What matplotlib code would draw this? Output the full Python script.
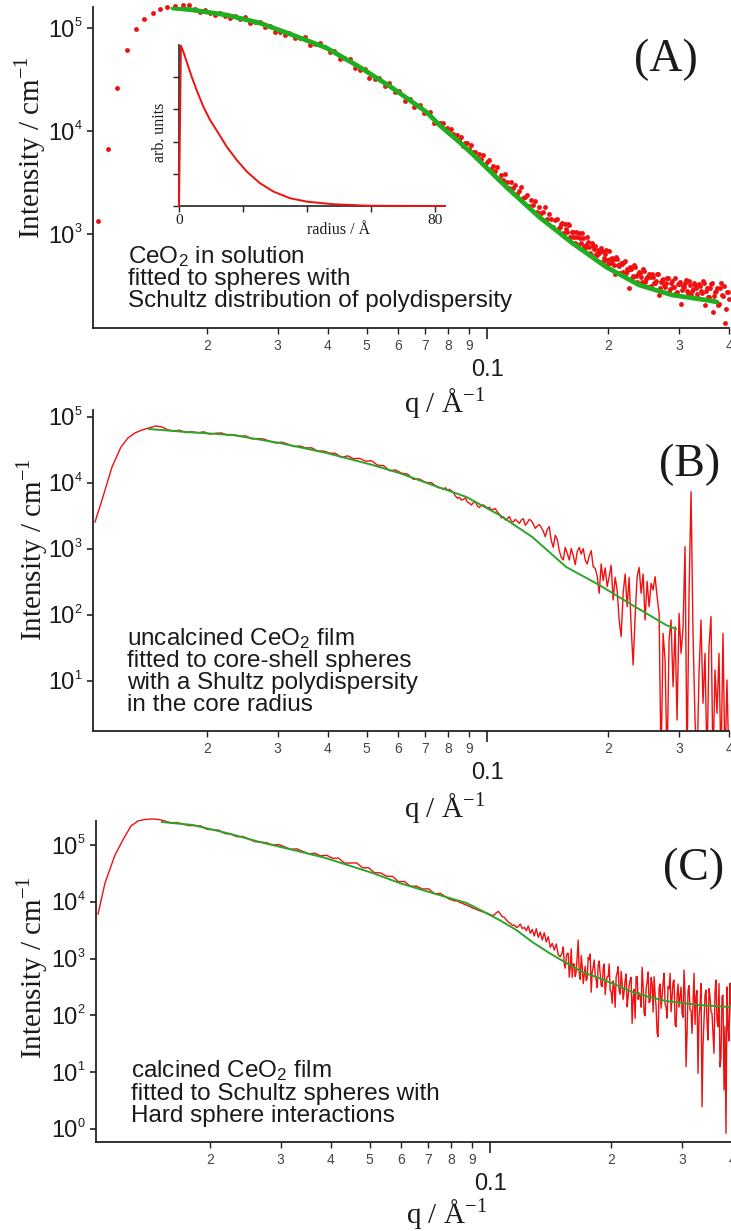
#!/usr/bin/env python3
"""SAXS curves of CeO2 (solution, uncalcined film, calcined film) with model fits."""
import numpy as np
import matplotlib
matplotlib.use("Agg")
import matplotlib.pyplot as plt
from matplotlib.ticker import FixedLocator, FuncFormatter, NullLocator

RED = "#f01010"
GREEN_A = "#1fae1f"
GREEN = "#2aa52a"
AXIS = "#222222"
INK = "#1a1a1a"
SANS = ["Liberation Sans", "DejaVu Sans"]
SERIF = ["Liberation Serif", "DejaVu Serif"]

# ---- data, stored as log10 values ----
# shared fine q grid (high-q part of every panel), log10(q / A^-1)
logq_fine = [
    -1.1144, -1.1095, -1.1045, -1.0995, -1.0945, -1.0896, -1.0846, -1.0796, -1.0746, -1.0697,
    -1.0647, -1.0597, -1.0547, -1.0498, -1.0448, -1.0398, -1.0348, -1.0299, -1.0249, -1.0199,
    -1.0149, -1.0100, -1.0050, -1.0000, -0.9950, -0.9900, -0.9851, -0.9801, -0.9751, -0.9701,
    -0.9652, -0.9602, -0.9552, -0.9502, -0.9453, -0.9403, -0.9353, -0.9303, -0.9254, -0.9204,
    -0.9154, -0.9104, -0.9055, -0.9005, -0.8955, -0.8905, -0.8856, -0.8806, -0.8756, -0.8706,
    -0.8657, -0.8607, -0.8557, -0.8507, -0.8458, -0.8408, -0.8358, -0.8308, -0.8259, -0.8209,
    -0.8159, -0.8109, -0.8060, -0.8010, -0.7960, -0.7910, -0.7861, -0.7811, -0.7761, -0.7711,
    -0.7662, -0.7612, -0.7562, -0.7512, -0.7463, -0.7413, -0.7363, -0.7313, -0.7264, -0.7214,
    -0.7164, -0.7114, -0.7065, -0.7015, -0.6965, -0.6915, -0.6866, -0.6816, -0.6766, -0.6716,
    -0.6667, -0.6617, -0.6567, -0.6517, -0.6468, -0.6418, -0.6368, -0.6318, -0.6269, -0.6219,
    -0.6169, -0.6119, -0.6070, -0.6020, -0.5970, -0.5920, -0.5871, -0.5821, -0.5771, -0.5721,
    -0.5672, -0.5622, -0.5572, -0.5522, -0.5473, -0.5423, -0.5373, -0.5323, -0.5274, -0.5224,
    -0.5174, -0.5124, -0.5075, -0.5025, -0.4975, -0.4925, -0.4876, -0.4826, -0.4776, -0.4726,
    -0.4677, -0.4627, -0.4577, -0.4527, -0.4478, -0.4428, -0.4378, -0.4328, -0.4279, -0.4229,
    -0.4179, -0.4129, -0.4080, -0.4030, -0.3980,
]
# extra points between the fine ones, where the noisy tail is densest
logq_tail = [
    -0.8184, -0.8134, -0.8085, -0.8035, -0.7985, -0.7935, -0.7886, -0.7836, -0.7786, -0.7736,
    -0.7687, -0.7637, -0.7587, -0.7537, -0.7488, -0.7438, -0.7388, -0.7338, -0.7289, -0.7239,
    -0.7189, -0.7139, -0.7090, -0.7040, -0.6990, -0.6940, -0.6891, -0.6841, -0.6791, -0.6741,
    -0.6692, -0.6642, -0.6592, -0.6542, -0.6493, -0.6443, -0.6393, -0.6343, -0.6294, -0.6244,
    -0.6194, -0.6144, -0.6095, -0.6045, -0.5995, -0.5945, -0.5896, -0.5846, -0.5796, -0.5746,
    -0.5697, -0.5647, -0.5597, -0.5547, -0.5498, -0.5448, -0.5398, -0.5348, -0.5299, -0.5249,
    -0.5199, -0.5149, -0.5100, -0.5050, -0.5000, -0.4950, -0.4900, -0.4851, -0.4801, -0.4751,
    -0.4701, -0.4652, -0.4602, -0.4552, -0.4502, -0.4453, -0.4403, -0.4353, -0.4303, -0.4254,
    -0.4204, -0.4154, -0.4104, -0.4055, -0.4005,
]
# shared coarse q grid (low-q part of panels B and C)
logq_coarse = [
    -1.9776, -1.9602, -1.9353, -1.9129, -1.8955, -1.8781, -1.8607, -1.8433, -1.8259, -1.8109,
    -1.7960, -1.7811, -1.7662, -1.7512, -1.7363, -1.7214, -1.7065, -1.6915, -1.6766, -1.6617,
    -1.6468, -1.6318, -1.6169, -1.6020, -1.5871, -1.5721, -1.5572, -1.5423, -1.5274, -1.5124,
    -1.4975, -1.4826, -1.4677, -1.4527, -1.4378, -1.4229, -1.4080, -1.3930, -1.3781, -1.3632,
    -1.3483, -1.3333, -1.3184, -1.3035, -1.2886, -1.2736, -1.2587, -1.2438, -1.2289, -1.2139,
    -1.1990, -1.1841, -1.1692, -1.1542, -1.1393, -1.1244,
]

# (A) CeO2 in solution: measured points
a_lo_logq = [-1.9701, -1.9453, -1.9229, -1.8968, -1.8756, -1.8557,
             -1.8333, -1.8159, -1.7985, -1.7786, -1.7587, -1.7438]
a_lo_logI = [3.126, 3.825, 4.417, 4.786, 4.990, 5.087,
             5.146, 5.184, 5.204, 5.214, 5.223, 5.223]
a_mid_logq = [
    -1.729, -1.716, -1.704, -1.692, -1.679, -1.667, -1.654, -1.642, -1.629, -1.617,
    -1.604, -1.592, -1.580, -1.567, -1.555, -1.542, -1.530, -1.517, -1.505, -1.493,
    -1.480, -1.468, -1.455, -1.443, -1.430, -1.418, -1.405, -1.393, -1.381, -1.368,
    -1.356, -1.343, -1.331, -1.318, -1.306, -1.294, -1.281, -1.269, -1.256, -1.244,
    -1.231, -1.219, -1.206, -1.194, -1.182, -1.169, -1.157, -1.144, -1.132, -1.119,
]
a_mid_logI = [
    5.182, 5.155, 5.178, 5.150, 5.123, 5.146, 5.119, 5.099, 5.117, 5.086,
    5.104, 5.052, 5.061, 5.059, 5.011, 5.024, 4.966, 4.958, 4.930, 4.953,
    4.905, 4.906, 4.908, 4.839, 4.840, 4.852, 4.813, 4.769, 4.781, 4.703,
    4.705, 4.697, 4.609, 4.591, 4.600, 4.519, 4.509, 4.517, 4.437, 4.466,
    4.383, 4.389, 4.295, 4.310, 4.236, 4.252, 4.178, 4.185, 4.077, 4.078,
]
a_hi_logI = [
    4.062, 4.075, 4.019, 4.032, 3.976, 4.019, 3.973, 3.936, 3.960, 3.913,
    3.945, 3.857, 3.879, 3.882, 3.824, 3.866, 3.798, 3.799, 3.740, 3.781,
    3.732, 3.763, 3.674, 3.695, 3.717, 3.628, 3.659, 3.610, 3.651, 3.532,
    3.573, 3.524, 3.585, 3.507, 3.450, 3.502, 3.444, 3.477, 3.389, 3.421,
    3.454, 3.346, 3.358, 3.381, 3.273, 3.326, 3.278, 3.320, 3.213, 3.265,
    3.200, 3.214, 3.259, 3.144, 3.199, 3.143, 3.068, 3.133, 3.147, 3.062,
    3.097, 3.012, 3.096, 3.021, 3.086, 2.971, 3.016, 2.912, 2.969, 3.005,
    2.911, 2.958, 2.864, 2.970, 2.877, 2.793, 2.879, 2.885, 2.792, 2.818,
    2.864, 2.731, 2.807, 2.745, 2.834, 2.714, 2.743, 2.612, 2.762, 2.691,
    2.720, 2.630, 2.739, 2.659, 2.478, 2.657, 2.597, 2.676, 2.536, 2.635,
    2.579, 2.663, 2.537, 2.581, 2.616, 2.500, 2.584, 2.528, 2.612, 2.406,
    2.530, 2.564, 2.489, 2.573, 2.437, 2.521, 2.487, 2.574, 2.441, 2.518,
    2.325, 2.492, 2.529, 2.447, 2.544, 2.411, 2.468, 2.505, 2.422, 2.519,
    2.446, 2.543, 2.310, 2.477, 2.384, 2.510, 2.247, 2.433, 2.480, 2.318,
    2.526, 2.394, 2.132, 2.440, 2.368,
]
a_tail_logI = [
    3.065, 3.110, 2.984, 3.049, 3.094, 2.969, 3.024, 2.969, 3.016, 2.892,
    2.958, 3.005, 2.881, 2.897, 2.924, 2.820, 2.916, 2.852, 2.809, 2.845,
    2.731, 2.838, 2.764, 2.841, 2.710, 2.759, 2.769, 2.698, 2.777, 2.697,
    2.626, 2.705, 2.725, 2.624, 2.654, 2.683, 2.572, 2.702, 2.591, 2.611,
    2.622, 2.536, 2.640, 2.564, 2.489, 2.583, 2.607, 2.521, 2.545, 2.609,
    2.473, 2.557, 2.502, 2.526, 2.570, 2.464, 2.539, 2.486, 2.423, 2.510,
    2.537, 2.454, 2.481, 2.558, 2.426, 2.503, 2.450, 2.527, 2.474, 2.381,
    2.498, 2.425, 2.522, 2.449, 2.386, 2.472, 2.529, 2.395, 2.442, 2.309,
    2.477, 2.405, 2.493, 2.271, 2.439,
]
# (A) Schultz sphere fit
a_fit_logq = [-1.7836, -1.7338, -1.6493, -1.5672, -1.4851, -1.4005, -1.3184, -1.2363, -1.1517, -1.1194,
              -1.0697, -1.0373, -0.9527, -0.8706, -0.7886, -0.7040, -0.6219, -0.5398, -0.4552, -0.4279]
a_fit_logI = [5.194, 5.175, 5.126, 5.049, 4.932, 4.806, 4.621, 4.417, 4.184, 4.058,
              3.893, 3.777, 3.456, 3.165, 2.913, 2.680, 2.505, 2.408, 2.359, 2.340]
# (A) inset: Schultz size distribution
inset_radius = [0, 0.6, 1.35, 2.4, 3.96, 5.5, 7.6, 9.7, 12.3, 14.9,
                18.0, 21.2, 25.3, 29.5, 34.7, 39.9, 48.1, 58.6, 70, 83]
inset_value = [0, 0.996, 0.958, 0.896, 0.803, 0.72, 0.617, 0.534, 0.452, 0.368,
               0.286, 0.213, 0.141, 0.089, 0.048, 0.027, 0.011, 0.002, 0.0005, 0]

# (B) uncalcined film
b_lo_logI = [
    3.409, 3.742, 4.242, 4.545, 4.682, 4.758, 4.803, 4.833, 4.864, 4.848,
    4.805, 4.788, 4.800, 4.763, 4.777, 4.761, 4.775, 4.740, 4.754, 4.758,
    4.722, 4.734, 4.709, 4.714, 4.668, 4.673, 4.667, 4.632, 4.606, 4.620,
    4.590, 4.551, 4.562, 4.532, 4.533, 4.484, 4.485, 4.453, 4.449, 4.386,
    4.412, 4.368, 4.374, 4.331, 4.337, 4.270, 4.263, 4.186, 4.198, 4.149,
    4.136, 4.054, 4.061, 4.008, 4.005, 3.933,
]
b_hi_logI = [
    3.919, 3.904, 3.929, 3.894, 3.904, 3.884, 3.853, 3.803, 3.768, 3.783,
    3.742, 3.752, 3.773, 3.712, 3.692, 3.667, 3.702, 3.717, 3.651, 3.631,
    3.662, 3.667, 3.646, 3.621, 3.631, 3.591, 3.601, 3.611, 3.561, 3.530,
    3.470, 3.490, 3.439, 3.460, 3.490, 3.424, 3.409, 3.449, 3.419, 3.389,
    3.439, 3.460, 3.359, 3.399, 3.449, 3.429, 3.379, 3.313, 3.348, 3.369,
    3.328, 3.268, 3.187, 3.298, 3.338, 3.126, 3.025, 3.207, 3.146, 2.975,
    2.874, 2.833, 3.025, 2.934, 2.833, 3.005, 2.904, 2.763, 2.960, 3.025,
    2.924, 3.005, 2.833, 2.773, 2.894, 2.975, 2.732, 2.707, 2.591, 2.328,
    2.773, 2.520, 2.712, 2.429, 2.581, 2.753, 2.227, 2.571, 2.379, 1.924,
    1.672, 2.328, 2.621, 2.126, 2.571, 1.823, 1.242, 1.975, 2.581, 2.722,
    2.328, 2.621, 1.924, 2.510, 2.126, 2.480, 2.379, 2.581, 2.278, 2.025,
    -0.3, 1.722, 1.318, -0.3, 1.621, 1.924, 0.914, 1.823, 0.409, 2.025,
    1.419, 1.823, 3.035, -0.3, 2.328, 3.869, 1.722, 0.409, -0.3, 1.116,
    1.924, 0.662, 1.419, -0.3, 1.520, 1.975, -0.3, 1.167, 0.510, 1.419,
    -0.3, 1.722, -0.3, 1.015, -0.3,
]
b_fit_logq = [-1.8433, -1.7512, -1.6343, -1.5174, -1.4005, -1.2861, -1.2189, -1.1368,
              -1.0522, -0.9701, -0.8881, -0.8035, -0.7214, -0.6393, -0.5547, -0.5299]
b_fit_logI = [4.818, 4.773, 4.727, 4.606, 4.455, 4.273, 4.150, 3.970,
              3.788, 3.515, 3.182, 2.727, 2.455, 2.152, 1.848, 1.788]

# (C) calcined film
c_lo_logI = [
    3.785, 4.331, 4.824, 5.123, 5.335, 5.423, 5.449, 5.458, 5.449, 5.423,
    5.389, 5.396, 5.370, 5.342, 5.343, 5.336, 5.276, 5.269, 5.262, 5.202,
    5.192, 5.146, 5.151, 5.106, 5.060, 5.049, 5.040, 4.998, 5.009, 4.967,
    4.924, 4.933, 4.889, 4.845, 4.854, 4.810, 4.819, 4.768, 4.768, 4.681,
    4.683, 4.685, 4.599, 4.600, 4.512, 4.509, 4.451, 4.447, 4.356, 4.357,
    4.273, 4.275, 4.225, 4.229, 4.144, 4.148,
]
c_hi_logI = [
    4.102, 4.079, 4.055, 4.038, 4.032, 4.014, 4.020, 4.002, 3.985, 3.973,
    3.955, 3.944, 3.926, 3.914, 3.891, 3.879, 3.867, 3.850, 3.838, 3.826,
    3.815, 3.803, 3.791, 3.773, 3.762, 3.768, 3.809, 3.832, 3.785, 3.738,
    3.727, 3.680, 3.644, 3.621, 3.586, 3.592, 3.550, 3.562, 3.609, 3.527,
    3.550, 3.492, 3.574, 3.445, 3.515, 3.398, 3.527, 3.374, 3.468, 3.327,
    3.457, 3.292, 3.386, 3.198, 3.269, 3.151, 3.257, 3.063, 3.034, 3.104,
    2.905, 3.022, 3.093, 2.835, 2.670, 2.905, 2.770, 3.327, 2.635, 2.858,
    2.711, 2.612, 3.022, 3.081, 2.764, 2.975, 2.623, 2.881, 2.741, 2.506,
    2.905, 2.576, 2.682, 2.435, 2.212, 2.506, 2.682, 2.858, 2.377, 2.565,
    2.418, 2.729, 2.330, 2.623, 1.860, 2.459, 2.682, 2.283, 2.330, 2.846,
    2.036, 2.482, 2.764, 2.248, 2.565, 2.682, 2.154, 1.626, 2.553, 2.330,
    2.741, 2.142, 2.506, 2.741, 2.318, 2.623, 1.802, 2.553, 2.330, 2.036,
    2.799, 1.097, 2.435, 2.095, 1.684, 2.741, 2.330, 0.980, 2.154, 0.393,
    1.919, 2.447, 1.567, 2.330, 2.036, 1.332, 2.623, 1.802, 1.097, 2.330,
    0.687, -0.076, 1.802, 2.565, 1.567,
]
c_tail_logI = [
    3.204, 2.833, 3.093, 2.673, 3.173, 2.903, 2.684, 3.034, 2.744, 3.054,
    2.558, 2.865, 2.653, 2.980, 2.408, 2.845, 2.703, 2.490, 2.958, 2.524,
    2.829, 2.365, 2.680, 2.905, 2.421, 2.607, 2.142, 2.747, 2.432, 2.776,
    2.281, 2.616, 2.150, 2.535, 2.670, 2.287, 1.946, 2.686, 2.396, 2.145,
    2.535, 1.995, 2.584, 2.224, 2.666, 2.058, 2.379, 1.691, 2.483, 2.125,
    2.566, 2.208, 1.952, 2.467, 2.063, 2.588, 1.834, 2.349, 2.145, 2.500,
    1.966, 2.362, 1.658, 2.524, 2.079, 2.245, 1.841, 2.437, 1.983, 2.561,
    1.478, 2.356, 1.874, 2.471, 2.069, 1.667, 2.415, 1.912, 2.560, 1.258,
    2.356, 1.803, 2.501, 1.549, 2.297,
]
c_fit_logq = [-1.8184, -1.7413, -1.6567, -1.5746, -1.4801, -1.4104, -1.2935, -1.2264, -1.1443,
              -1.0597, -1.0199, -0.9776, -0.9353, -0.8955, -0.8532, -0.8109, -0.7711, -0.7289,
              -0.6866, -0.6468, -0.6045, -0.5622, -0.5224, -0.4801, -0.4030]
c_fit_logI = [5.405, 5.352, 5.211, 5.053, 4.894, 4.771, 4.507, 4.331, 4.155,
              3.979, 3.838, 3.680, 3.504, 3.292, 3.099, 2.923, 2.764, 2.658,
              2.535, 2.412, 2.324, 2.254, 2.218, 2.183, 2.148]

MINOR_Q = [0.02, 0.03, 0.04, 0.05, 0.06, 0.07, 0.08, 0.09, 0.2, 0.3, 0.4]

A_TEXT = ["CeO$_\\mathregular{2}$ in solution", "fitted to spheres with",
          "Schultz distribution of polydispersity"]
B_TEXT = ["uncalcined CeO$_\\mathregular{2}$ film", "fitted to core-shell spheres",
          "with a Shultz polydispersity", "in the core radius"]
C_TEXT = ["calcined CeO$_\\mathregular{2}$ film", "fitted to Schultz spheres with",
          "Hard sphere interactions"]

plt.rcParams["font.family"] = SANS
plt.rcParams["mathtext.fontset"] = "custom"
plt.rcParams["mathtext.rm"] = "Liberation Sans"
plt.rcParams["mathtext.it"] = "Liberation Sans:italic"

W, H = 731, 1231


def pw(a):
    return np.power(10.0, np.asarray(a, dtype=float))


def box(left, top, right, bottom):
    return [left / W, 1 - bottom / H, (right - left) / W, (bottom - top) / H]


def ftext(fig, x, y, s, **kw):
    fig.text(x / W, 1 - y / H, s, **kw)


def style(ax, ylo, yhi, yticks):
    ax.set_xscale("log")
    ax.set_yscale("log")
    ax.set_xlim(10 ** -1.9826, 0.4)
    ax.set_ylim(10 ** ylo, 10 ** yhi)
    ax.patch.set_alpha(0)
    for side in ("top", "right"):
        ax.spines[side].set_visible(False)
    for side in ("left", "bottom"):
        ax.spines[side].set_linewidth(1.3)
        ax.spines[side].set_color(AXIS)
    ax.xaxis.set_major_locator(FixedLocator([0.1]))
    ax.xaxis.set_minor_locator(FixedLocator(MINOR_Q))
    ax.xaxis.set_major_formatter(FuncFormatter(lambda v, p: "0.1"))
    ax.xaxis.set_minor_formatter(FuncFormatter(
        lambda v, p: "%d" % round(v / 10 ** np.floor(np.log10(v) + 1e-9))))
    ax.yaxis.set_major_locator(FixedLocator(yticks))
    ax.yaxis.set_minor_locator(NullLocator())
    ax.yaxis.set_major_formatter(FuncFormatter(lambda v, p: "10"))
    ax.tick_params(axis="x", which="major", length=8, width=1.2, pad=14,
                   labelsize=17, color=AXIS, labelcolor=INK)
    ax.tick_params(axis="x", which="minor", length=4, width=1.0, pad=4,
                   labelsize=10, color=AXIS, labelcolor="#444444")
    ax.tick_params(axis="y", which="major", length=4.5, width=1.2, pad=9,
                   labelsize=17, color=AXIS, labelcolor=INK)
    # small decade exponent to the upper right of each "10"
    for v in yticks:
        ax.annotate("%d" % round(np.log10(v)), xy=(0, v), xycoords=("axes fraction", "data"),
                    xytext=(-15, 5), textcoords="offset pixels", ha="center", va="center",
                    fontsize=9, color=INK, annotation_clip=False)


def decorate(fig, label, label_xy, ylab_xy, xlab_xy, lines, text_x, baselines):
    ftext(fig, *label_xy, label, ha="center", va="center", family=SERIF, fontsize=33, color=INK)
    ftext(fig, *ylab_xy, "Intensity / cm$^{\\mathregular{-1}}$", rotation=90,
          ha="center", va="center", family=SERIF, fontsize=21, color=INK)
    ftext(fig, *xlab_xy, "q / Å$^{\\mathregular{-1}}$", ha="center", va="baseline",
          family=SERIF, fontsize=21, color=INK)
    for line, y in zip(lines, baselines):
        ftext(fig, text_x, y, line, ha="left", va="baseline", fontsize=17.5, color=INK)


fig = plt.figure(figsize=(W / 100, H / 100), dpi=100)

# ---------------- (A) ----------------
ax_a = fig.add_axes(box(93, 7, 729, 328))
style(ax_a, 2.0874, 5.204, [1e3, 1e4, 1e5])
ax_a.plot(pw(a_lo_logq + a_mid_logq + logq_fine + logq_tail),
          pw(a_lo_logI + a_mid_logI + a_hi_logI + a_tail_logI),
          "o", ms=3.5, mew=0, color=RED, clip_on=False, zorder=2)
ax_a.plot(pw(a_fit_logq), pw(a_fit_logI), color=GREEN_A, lw=3.4,
          solid_capstyle="round", zorder=3)
decorate(fig, "(A)", (666, 60), (30, 148), (444, 412), A_TEXT, 128, [263, 285, 307])

ins = fig.add_axes(box(179, 45, 445, 206))
ins.patch.set_alpha(0)
ins.plot(inset_radius, inset_value, color=RED, lw=1.4, clip_on=False, zorder=5)
ins.set_xlim(0, 83)
ins.set_ylim(0, 1.0)
for side in ("top", "right"):
    ins.spines[side].set_visible(False)
for side in ("left", "bottom"):
    ins.spines[side].set_linewidth(1.2)
    ins.spines[side].set_color(AXIS)
ins.set_xticks([0, 20, 40, 60, 80])
ins.set_xticklabels(["0", "", "", "", "80"])
ins.set_yticks([0, 0.2, 0.4, 0.6, 0.8])
ins.set_yticklabels([])
ins.tick_params(length=4, width=1.0, pad=2, labelsize=11, color=AXIS, labelcolor=INK)
for lbl in ins.get_xticklabels():
    lbl.set_family(SERIF)
ins.set_xlabel("radius / Å", family=SERIF, fontsize=11.5, color=INK)
ins.xaxis.set_label_coords(0.60, -0.10)
ins.set_ylabel("arb. units", family=SERIF, fontsize=11.5, color=INK)
ins.yaxis.set_label_coords(-0.04, 0.46)

# ---------------- (B) ----------------
ax_b = fig.add_axes(box(93, 410, 729, 731))
style(ax_b, 0.2424, 5.106, [1e1, 1e2, 1e3, 1e4, 1e5])
ax_b.plot(pw(logq_coarse + logq_fine), pw(b_lo_logI + b_hi_logI), color=RED, lw=1.0, zorder=2)
ax_b.plot(pw(b_fit_logq), pw(b_fit_logI), color=GREEN, lw=1.4, zorder=3)
decorate(fig, "(B)", (690, 465), (32, 550), (444, 817), B_TEXT, 127, [645, 667, 689, 711])

# ---------------- (C) ----------------
ax_c = fig.add_axes(box(96, 820.7, 732, 1142))
style(ax_c, -0.229, 5.428, [1e0, 1e1, 1e2, 1e3, 1e4, 1e5])
c_q = np.array(logq_coarse + logq_fine + logq_tail)
c_I = np.array(c_lo_logI + c_hi_logI + c_tail_logI)
order = np.argsort(c_q, kind="stable")
ax_c.plot(pw(c_q[order]), pw(c_I[order]), color=RED, lw=1.0, clip_on=False, zorder=2)
ax_c.plot(pw(c_fit_logq), pw(c_fit_logI), color=GREEN, lw=1.4, zorder=3)
decorate(fig, "(C)", (694, 869), (32, 968), (446, 1223), C_TEXT, 131, [1077, 1100, 1122])

fig.savefig("out.png", dpi=100)
